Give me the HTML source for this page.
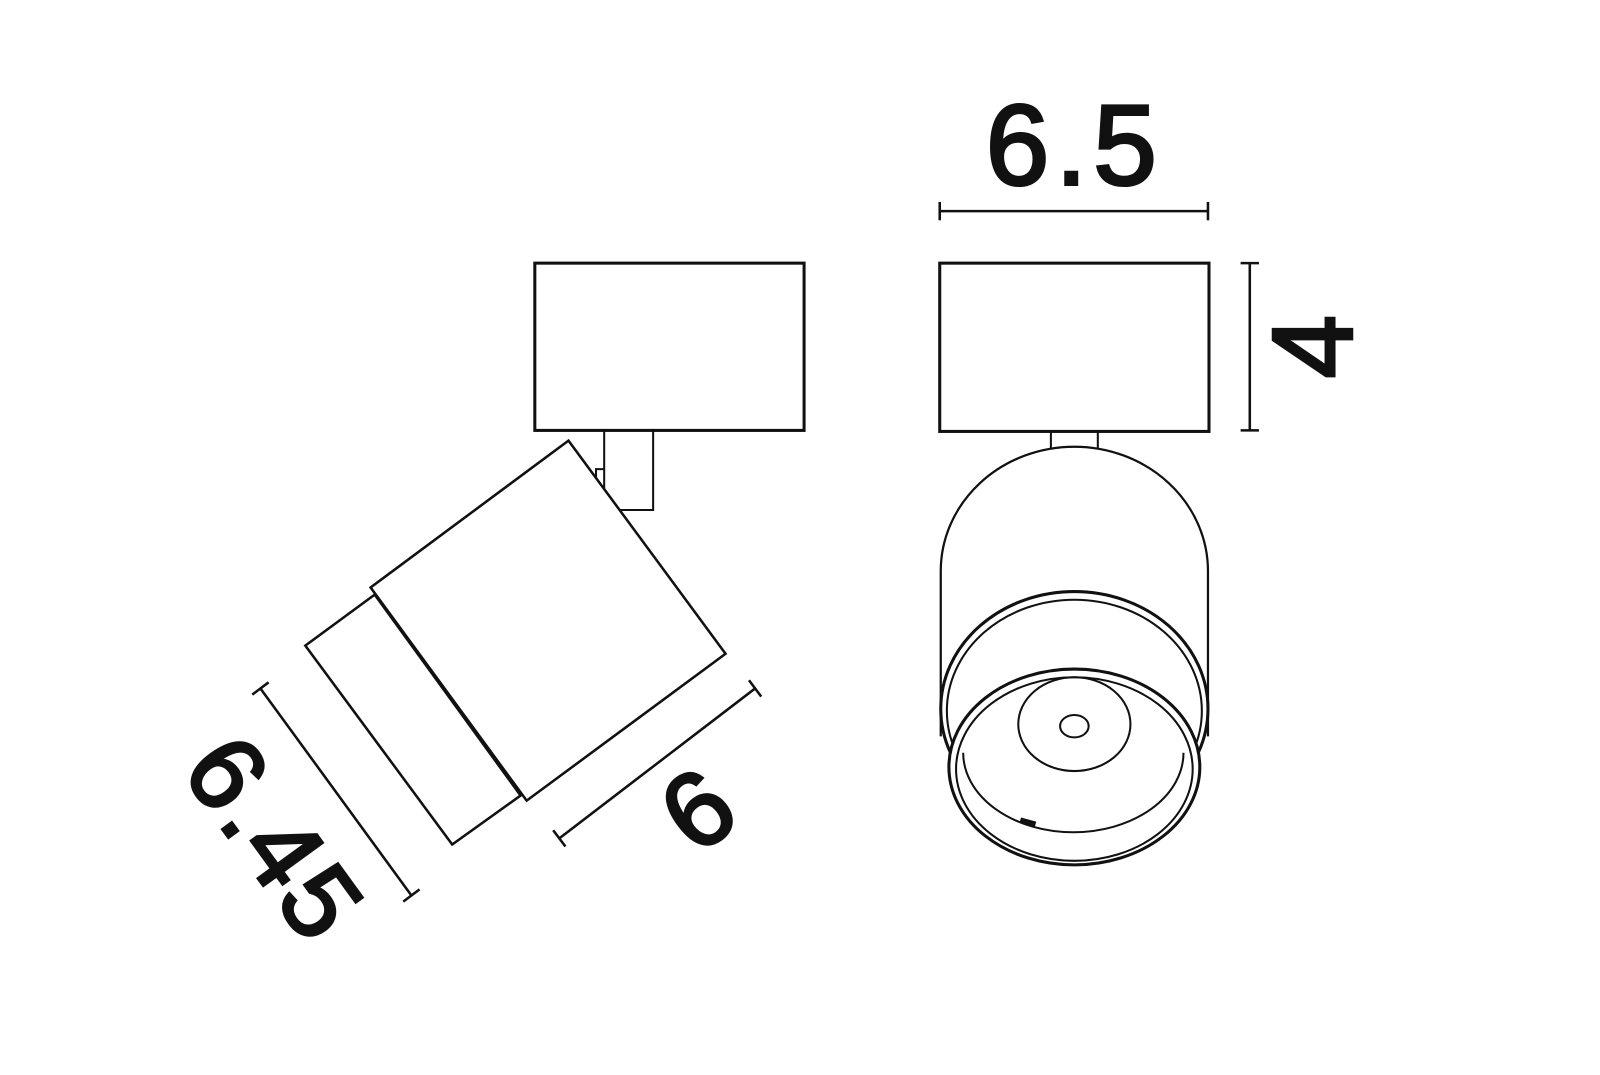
<!DOCTYPE html>
<html><head><style>html,body{margin:0;padding:0;background:#fff}svg{display:block}</style></head><body>
<svg width="1600" height="1075" viewBox="0 0 1568 1054" xmlns="http://www.w3.org/2000/svg">
<g fill="none" stroke="#111" stroke-width="2.5">
<!-- left view -->
<rect x="524" y="258" width="264" height="164" stroke-width="3"/>
<path d="M592 422 V497 H586 M592 422 V500 H640 V422" stroke-width="2"/>
<path d="M592 460 H584 V470" stroke-width="2"/>
<polygon points="557,432 711,641 516,785 363,576" fill="#fff"/>
<polygon points="367,583 299,633 443,828 510,780" fill="#fff"/>
<!-- dim 6 -->
<line x1="548" y1="822" x2="740" y2="675"/>
<line x1="542" y1="814" x2="554" y2="830"/>
<line x1="734" y1="667" x2="746" y2="683"/>
<!-- dim 6.45 -->
<line x1="255" y1="675" x2="403" y2="878"/>
<line x1="247" y1="681" x2="263" y2="669"/>
<line x1="395" y1="884" x2="411" y2="872"/>
<!-- right view -->
<rect x="921" y="258" width="264" height="165" stroke-width="3"/>
<line x1="921" y1="207" x2="1184" y2="207"/>
<line x1="921" y1="198" x2="921" y2="216"/>
<line x1="1184" y1="198" x2="1184" y2="216"/>
<line x1="1225" y1="258" x2="1225" y2="422"/>
<line x1="1216" y1="258" x2="1234" y2="258"/>
<line x1="1216" y1="422" x2="1234" y2="422"/>
<path d="M1030 424 V440 M1076 424 V440" stroke-width="2"/>
<path d="M922 722 V560 A131 122 0 0 1 1184 560 V722" stroke-width="2.2"/>
<ellipse cx="1053" cy="695" rx="131" ry="115" stroke-width="3"/>
<ellipse cx="1053" cy="697" rx="125" ry="109" stroke-width="2"/>
<ellipse cx="1053" cy="752" rx="123" ry="96" fill="#fff" stroke-width="3"/>
<ellipse cx="1053" cy="754" rx="116" ry="90" stroke-width="2"/>
<path d="M944 738 A108 78 0 0 0 1160 738" stroke-width="2"/>
<path d="M1000 804 L1015 808" stroke-width="5"/>
<ellipse cx="1053" cy="710" rx="55" ry="46" stroke-width="2"/>
<ellipse cx="1053" cy="712" rx="14" ry="11" stroke-width="2"/>
</g>
<g font-family="'Liberation Sans',sans-serif" fill="#111" stroke="#111" stroke-width="3" text-anchor="middle">
<text x="1053" y="181" font-size="112" letter-spacing="6">6.5</text>
<text transform="translate(1325,340) rotate(-90)" font-size="112">4</text>
<text transform="translate(683,793) rotate(-37)" font-size="104" dy="37">6</text>
<text transform="translate(270,822) rotate(54)" font-size="104" dy="37" letter-spacing="4">6.45</text>
</g>
</svg>
</body></html>
